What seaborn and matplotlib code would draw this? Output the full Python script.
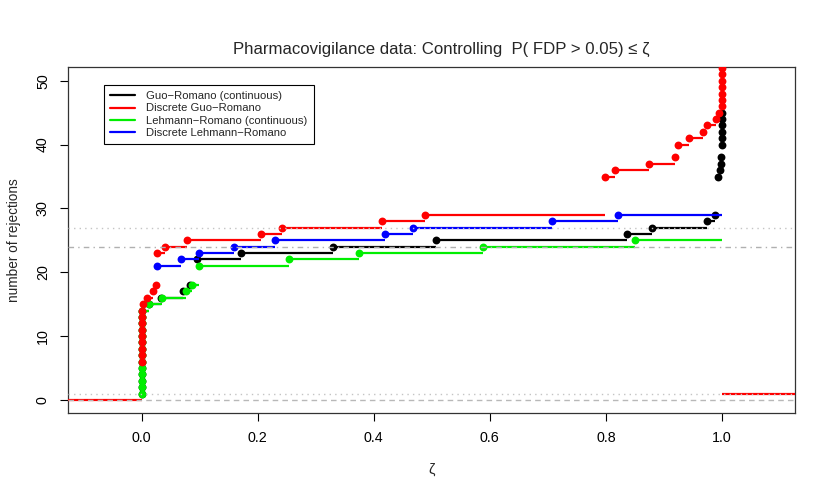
import matplotlib
matplotlib.use("Agg")
import matplotlib.pyplot as plt
from matplotlib.lines import Line2D
import seaborn as sns

# ---------------------------
# Step function data (jump points)
# ---------------------------
gr_cont_x = [0.0, 0.0, 0.0, 0.0, 0.0, 0.0, 0.0, 0.0, 0.0, 0.0, 0.0, 0.0, 0.0, 0.0,
             0.012, 0.033, 0.072, 0.083, 0.095, 0.172, 0.330, 0.507, 0.836, 0.879,
             0.974, 0.988, 0.994, 0.996, 0.998, 0.999, 1.0, 1.0, 1.0, 1.0, 1.0, 1.0]
gr_cont_y = [1, 2, 3, 4, 5, 6, 7, 8, 9, 10, 11, 12, 13, 14,
             15, 16, 17, 18, 22, 23, 24, 25, 26, 27,
             28, 29, 35, 36, 37, 38, 40, 41, 42, 43, 44, 45]

gr_disc_x = [0.0, 0.0, 0.0, 0.0, 0.0, 0.0, 0.0, 0.0, 0.0,
             0.002, 0.009, 0.020, 0.024, 0.026, 0.040, 0.078, 0.205, 0.241,
             0.414, 0.489, 0.798, 0.815, 0.874, 0.919, 0.924, 0.944, 0.968,
             0.974, 0.989, 0.995, 1.0, 1.0, 1.0, 1.0, 1.0, 1.0, 1.0]
gr_disc_y = [6, 7, 8, 9, 10, 11, 12, 13, 14,
             15, 16, 17, 18, 23, 24, 25, 26, 27,
             28, 29, 35, 36, 37, 38, 40, 41, 42,
             43, 44, 45, 46, 47, 48, 49, 50, 51, 52]

lr_cont_x = [0.0, 0.0, 0.0, 0.0, 0.0, 0.0, 0.0, 0.0, 0.0, 0.0, 0.0, 0.0, 0.0, 0.0,
             0.013, 0.035, 0.076, 0.087, 0.099, 0.254, 0.375, 0.589, 0.851]
lr_cont_y = [1, 2, 3, 4, 5, 6, 7, 8, 9, 10, 11, 12, 13, 14,
             15, 16, 17, 18, 21, 22, 23, 24, 25]

lr_disc_x = [0.026, 0.067, 0.098, 0.159, 0.230, 0.419, 0.468, 0.707, 0.821]
lr_disc_y = [21, 22, 23, 24, 25, 26, 27, 28, 29]

labels = ["Guo\u2212Romano (continuous)", "Discrete Guo\u2212Romano",
          "Lehmann\u2212Romano (continuous)", "Discrete Lehmann\u2212Romano"]
colors = ["black", "red", "#00ee00", "blue"]

ref_dotted = [27, 1]
ref_dotdash = [24]
ref_dashed = [0]

XLIM = (-0.127, 1.126)
YLIM = (-2.0, 52.2)
X_END = 1.0

# ---------------------------
# Figure
# ---------------------------
sns.set_style("ticks")
plt.rcParams['font.family'] = ['Liberation Sans', 'DejaVu Sans']

fig, ax = plt.subplots(figsize=(8.3, 4.98), dpi=100)
fig.subplots_adjust(left=68/830, right=795/830, top=1-66.7/498, bottom=1-412.7/498)

series = [(gr_cont_x, gr_cont_y), (lr_cont_x, lr_cont_y),
          (gr_disc_x, gr_disc_y), (lr_disc_x, lr_disc_y)]
series_col = [colors[0], colors[2], colors[1], colors[3]]

for z, ((xs, ys), col) in enumerate(zip(series, series_col)):
    ends = list(xs[1:]) + [X_END]
    ax.hlines(ys, xs, ends, colors=col, linewidth=1.6, zorder=2 + z)
    sns.scatterplot(x=xs, y=ys, color=col, s=32, linewidth=0, ax=ax,
                    zorder=2 + z, legend=False)

# left / right extensions of the discrete GR function
ax.hlines([0], XLIM[0], 0.0, colors="red", linewidth=1.6, zorder=6)
ax.hlines([1], 1.0, XLIM[1], colors="red", linewidth=1.6, zorder=6)

# reference lines
for yv in ref_dotted:
    ax.axhline(yv, color="#c4c4c4", linewidth=1.0, linestyle=(0, (1, 3)), zorder=10)
for yv in ref_dotdash:
    ax.axhline(yv, color="#b0b0b0", linewidth=1.0, linestyle=(0, (4, 3, 1, 3)), zorder=10)
for yv in ref_dashed:
    ax.axhline(yv, color="#b8b8b8", linewidth=1.0, linestyle=(0, (4, 3)), zorder=10)

ax.set_xlim(*XLIM)
ax.set_ylim(*YLIM)
ax.set_xticks([0.0, 0.2, 0.4, 0.6, 0.8, 1.0])
ax.set_xticklabels(["0.0", "0.2", "0.4", "0.6", "0.8", "1.0"])
ax.set_yticks([0, 10, 20, 30, 40, 50])
ax.set_yticklabels(["0", "10", "20", "30", "40", "50"], rotation=90, va="center")
ax.tick_params(direction="out", length=6, width=0.8, colors="black", labelsize=10.3, pad=7)

for sp in ax.spines.values():
    sp.set_visible(True)
    sp.set_color("#333333")
    sp.set_linewidth(0.9)

ax.set_xlabel("\u03b6", fontsize=10.5, labelpad=13)
ax.set_ylabel("number of rejections", fontsize=9.8, labelpad=11)
ax.set_title("Pharmacovigilance data: Controlling  P( FDP > 0.05) \u2264 \u03b6",
             fontsize=12.1, pad=9, x=0.513)

handles = [Line2D([0], [0], color=c, linewidth=1.6) for c in colors]
leg = ax.legend(handles, labels, loc="upper left", bbox_to_anchor=(0.0495, 0.947),
                borderaxespad=0, fancybox=False, framealpha=1, edgecolor="black",
                fontsize=8.1, handlelength=2.2, handletextpad=1.0,
                labelspacing=0.2, borderpad=0.55)
leg.get_frame().set_linewidth(0.8)

fig.savefig("out.png", dpi=100)
